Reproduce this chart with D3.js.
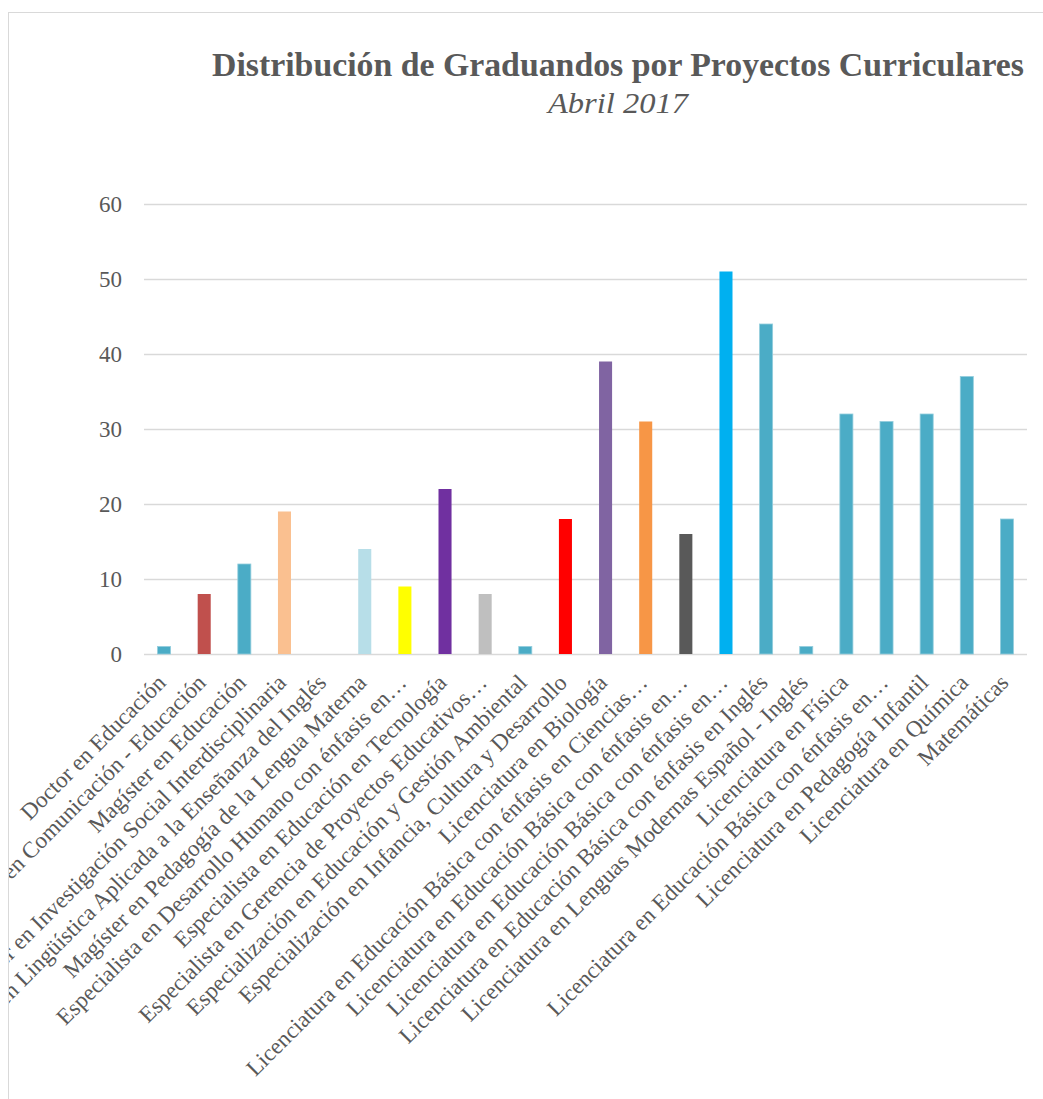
<!DOCTYPE html>
<html>
<head>
<meta charset="utf-8">
<script src="https://cdn.jsdelivr.net/npm/d3@7"></script>
<style>
  body { margin: 0; background: #fff; }
</style>
</head>
<body>
<script>
// data
var categories = [
  "Doctor en Educación",
  "Magíster en Comunicación - Educación",
  "Magíster en Educación",
  "Magíster en Investigación Social Interdisciplinaria",
  "Magíster en Lingüística Aplicada a la Enseñanza del Inglés",
  "Magíster en Pedagogía de la Lengua Materna",
  "Especialista en Desarrollo Humano con énfasis en…",
  "Especialista en Educación en Tecnología",
  "Especialista en Gerencia de Proyectos Educativos…",
  "Especialización en Educación y Gestión Ambiental",
  "Especialización en Infancia, Cultura y Desarrollo",
  "Licenciatura en Biología",
  "Licenciatura en Educación Básica con énfasis en Ciencias…",
  "Licenciatura en Educación Básica con énfasis en… ",
  "Licenciatura en Educación Básica con énfasis en…  ",
  "Licenciatura en Educación Básica con énfasis en Inglés",
  "Licenciatura en Lenguas Modernas Español - Inglés",
  "Licenciatura en Física",
  "Licenciatura en Educación Básica con énfasis en…   ",
  "Licenciatura en Pedagogía Infantil",
  "Licenciatura en Química",
  "Matemáticas"
];
var graduandos = [1, 8, 12, 19, 0, 14, 9, 22, 8, 1, 18, 39, 31, 16, 51, 44, 1, 32, 31, 32, 37, 18];
var barColors = ["#4BACC6", "#C0504D", "#4BACC6", "#FAC090", "#4BACC6", "#B7DEE8", "#FFFF00",
  "#7030A0", "#BFBFBF", "#4BACC6", "#FF0000", "#8064A2", "#F79646", "#595959", "#00B0F0",
  "#4BACC6", "#4BACC6", "#4BACC6", "#4BACC6", "#4BACC6", "#4BACC6", "#4BACC6"];
var yTicks = [0, 10, 20, 30, 40, 50, 60];

var width = 1043, height = 1099;
var plot = {left: 144, right: 1027, top: 204, bottom: 654};

var svg = d3.select("body").append("svg")
    .attr("width", width)
    .attr("height", height);

svg.append("rect")
    .attr("width", width).attr("height", height)
    .attr("fill", "#fff");

// the chart area cuts the long labels on its left edge, as in the picture
svg.append("defs").append("clipPath").attr("id", "chartClip")
  .append("rect")
    .attr("x", 9).attr("y", 13)
    .attr("width", width).attr("height", height);

// chart area border
svg.append("rect")
    .attr("x", 8.5).attr("y", 12.5)
    .attr("width", width + 20).attr("height", height + 20)
    .attr("fill", "none")
    .attr("stroke", "#D9D9D9")
    .attr("stroke-width", 1);

var chart = svg.append("g").attr("clip-path", "url(#chartClip)");

var x = d3.scaleBand()
    .domain(categories)
    .range([plot.left, plot.right])
    .paddingInner(0.675)
    .paddingOuter(0.3375);

var y = d3.scaleLinear()
    .domain([0, 60])
    .range([plot.bottom, plot.top]);

// gridlines
chart.append("g")
    .attr("transform", "translate(" + plot.left + ",0)")
    .call(d3.axisLeft(y).tickValues(yTicks).tickSize(-(plot.right - plot.left)).tickFormat(""))
    .call(function(g) { g.select(".domain").remove(); })
    .selectAll("line")
    .attr("stroke", "#D9D9D9")
    .attr("stroke-width", 1.5);

// y tick labels
var yAxis = chart.append("g")
    .attr("transform", "translate(" + plot.left + ",0)")
    .call(d3.axisLeft(y).tickValues(yTicks).tickSize(0).tickPadding(22));
yAxis.select(".domain").remove();
yAxis.selectAll("text")
    .attr("fill", "#595959")
    .style("font-family", "'Liberation Serif', serif")
    .style("font-size", "23px");

// bars
chart.append("g").selectAll("rect")
    .data(graduandos)
    .enter().append("rect")
      .attr("x", function(d, i) { return x(categories[i]); })
      .attr("y", function(d) { return y(d); })
      .attr("width", x.bandwidth())
      .attr("height", function(d) { return y(0) - y(d); })
      .attr("fill", function(d, i) { return barColors[i]; })
      .attr("stroke", function(d, i) { return barColors[i] === "#4BACC6" ? "#93CDDD" : "none"; })
      .attr("stroke-width", 0.8);

// x labels, rotated
var xAxis = chart.append("g")
    .attr("transform", "translate(0," + plot.bottom + ")")
    .call(d3.axisBottom(x).tickSize(0).tickPadding(0));
xAxis.select(".domain").remove();
xAxis.selectAll("text")
    .attr("fill", "#595959")
    .attr("text-anchor", "end")
    .attr("y", 0)
    .attr("dy", 0)
    .attr("transform", "translate(3,30) rotate(-45)")
    .style("font-family", "'Liberation Serif', serif")
    .style("font-size", "23px");

// title
chart.append("text")
    .attr("x", 618).attr("y", 76)
    .attr("text-anchor", "middle")
    .attr("fill", "#595959")
    .attr("textLength", 812)
    .attr("lengthAdjust", "spacingAndGlyphs")
    .style("font-family", "'Liberation Serif', serif")
    .style("font-weight", "bold")
    .style("font-size", "34px")
    .text("Distribución de Graduandos por Proyectos Curriculares");

chart.append("text")
    .attr("x", 618).attr("y", 113)
    .attr("text-anchor", "middle")
    .attr("fill", "#595959")
    .attr("textLength", 140)
    .attr("lengthAdjust", "spacingAndGlyphs")
    .style("font-family", "'Liberation Serif', serif")
    .style("font-style", "italic")
    .style("font-size", "30px")
    .text("Abril 2017");
</script>
</body>
</html>
